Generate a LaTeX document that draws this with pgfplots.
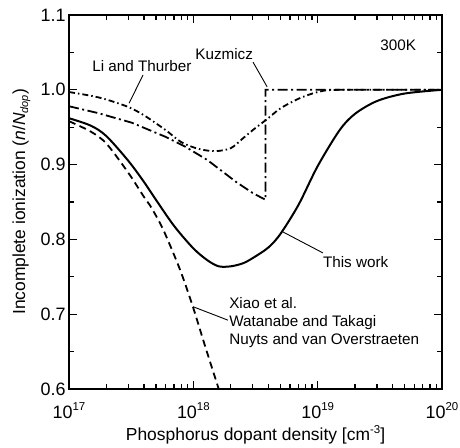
\documentclass[border=0pt]{standalone}
\usepackage{fontspec}
\setmainfont{Liberation Sans}
\usepackage{pgfplots}
\pgfplotsset{compat=1.18}
\newcommand{\annfont}{\fontsize{15.3}{18}\selectfont}
\newcommand{\supx}[1]{\raisebox{0.75ex}{\fontsize{11.5}{11.5}\selectfont #1}}
\begin{document}
\begin{tikzpicture}
\begin{axis}[
  at={(0,0)}, anchor=south west,
  scale only axis, width=373bp, height=374bp,
  xmode=log, xmin=1e17, xmax=1e20, ymin=0.6, ymax=1.1,
  xtick={1e17,1e18,1e19,1e20},
  xticklabels={10\supx{17},10\supx{18},10\supx{19},10\supx{20}},
  minor xtick={2e17,3e17,4e17,5e17,6e17,7e17,8e17,9e17,2e18,3e18,4e18,5e18,6e18,7e18,8e18,9e18,2e19,3e19,4e19,5e19,6e19,7e19,8e19,9e19},
  ytick={0.6,0.7,0.8,0.9,1.0,1.1},
  yticklabels={0.6,0.7,0.8,0.9,1.0,1.1},
  minor ytick={0.65,0.75,0.85,0.95,1.05},
  tick align=inside,
  major tick length=8bp, minor tick length=5bp,
  every tick/.style={black, line width=1.3bp},
  axis line style={line width=2.2bp},
  tick label style={font=\fontsize{18}{18}\selectfont},
  xticklabel style={anchor=base, yshift=-29bp},
  xlabel={Phosphorus dopant density [cm\supx{-3}]},
  ylabel={Incomplete ionization (\textit{n}/\textit{N}\raisebox{-0.35ex}{\fontsize{11}{11}\selectfont\itshape dop})},
  label style={font=\fontsize{17.5}{17.5}\selectfont},
  xlabel style={at={(axis description cs:0.5,0)}, anchor=base, yshift=-51bp},
  ylabel style={at={(axis description cs:-0.118,0.5)}, anchor=base},
]
% This work
\addplot[black, line width=2bp, smooth] coordinates {
(1e17,0.962) (1.5e17,0.952) (2e17,0.938) (3e17,0.905) (4e17,0.877) (5e17,0.853)
(7e17,0.818) (1e18,0.788) (1.3e18,0.772) (1.6e18,0.764) (2e18,0.764) (2.5e18,0.768)
(3e18,0.775) (4e18,0.789) (5e18,0.807) (7e18,0.846) (1e19,0.898) (1.5e19,0.946)
(2e19,0.968) (3e19,0.985) (5e19,0.995) (1e20,1.000)};
% Xiao / Watanabe / Nuyts
\addplot[black, line width=1.8bp, dash pattern=on 7bp off 4.5bp, smooth] coordinates {
(1e17,0.958) (1.5e17,0.944) (2e17,0.928) (3e17,0.889) (4e17,0.857) (4.5e17,0.845)
(5.5e17,0.819) (6.5e17,0.792) (8e17,0.755) (1e18,0.708) (1.25e18,0.656) (1.6e18,0.600)};
% Li and Thurber
\addplot[black, line width=1.8bp, dash pattern=on 6bp off 3bp on 1.5bp off 3bp, smooth] coordinates {
(1e17,0.997) (1.5e17,0.992) (2e17,0.987) (3e17,0.977) (4e17,0.966) (6e17,0.946)
(8e17,0.930) (1.1e18,0.921) (1.5e18,0.918) (2e18,0.922) (2.5e18,0.935) (3e18,0.946)
(4e18,0.962) (5e18,0.975) (7e18,0.988) (1e19,0.997) (1.5e19,1.000) (1e20,1.000)};
% Kuzmicz
\addplot[black, line width=1.8bp, dash pattern=on 10bp off 3.5bp on 2bp off 3.5bp] coordinates {
(1e17,0.978) (1.7e17,0.969) (3.2e17,0.956) (6e17,0.937) (8.6e17,0.924) (1.3e18,0.906)
(2.2e18,0.877) (3e18,0.862) (3.8e18,0.853) (3.8e18,1.000) (1e20,1.000)};
% annotations
\node[anchor=base, font=\annfont] at (axis cs:3.86e17,1.0238) {Li and Thurber};
\draw[line width=0.9bp] (axis cs:3.94e17,1.0198) -- (axis cs:3.04e17,0.982);
\node[anchor=base, font=\annfont] at (axis cs:1.77e18,1.040) {Kuzmicz};
\draw[line width=0.9bp] (axis cs:3.02e18,1.037) -- (axis cs:3.92e18,1.004);
\node[anchor=base west, inner sep=0pt, font=\annfont] at (axis cs:3.18e19,1.053) {300K};
\node[anchor=base west, inner sep=0pt, font=\annfont] at (axis cs:1.1e19,0.762) {This work};
\draw[line width=0.9bp] (axis cs:5.25e18,0.810) -- (axis cs:1.1e19,0.782);
\node[anchor=base west, inner sep=0pt, font=\annfont] at (axis cs:1.94e18,0.708) {Xiao et al.};
\node[anchor=base west, inner sep=0pt, font=\annfont] at (axis cs:1.94e18,0.684) {Watanabe and Takagi};
\node[anchor=base west, inner sep=0pt, font=\annfont] at (axis cs:1.94e18,0.660) {Nuyts and van Overstraeten};
\draw[line width=0.9bp] (axis cs:9.95e17,0.710) -- (axis cs:1.9e18,0.692);
\end{axis}
\pgfresetboundingbox
\path (-69bp,-59bp) rectangle (391bp,389bp);
\end{tikzpicture}
\end{document}
